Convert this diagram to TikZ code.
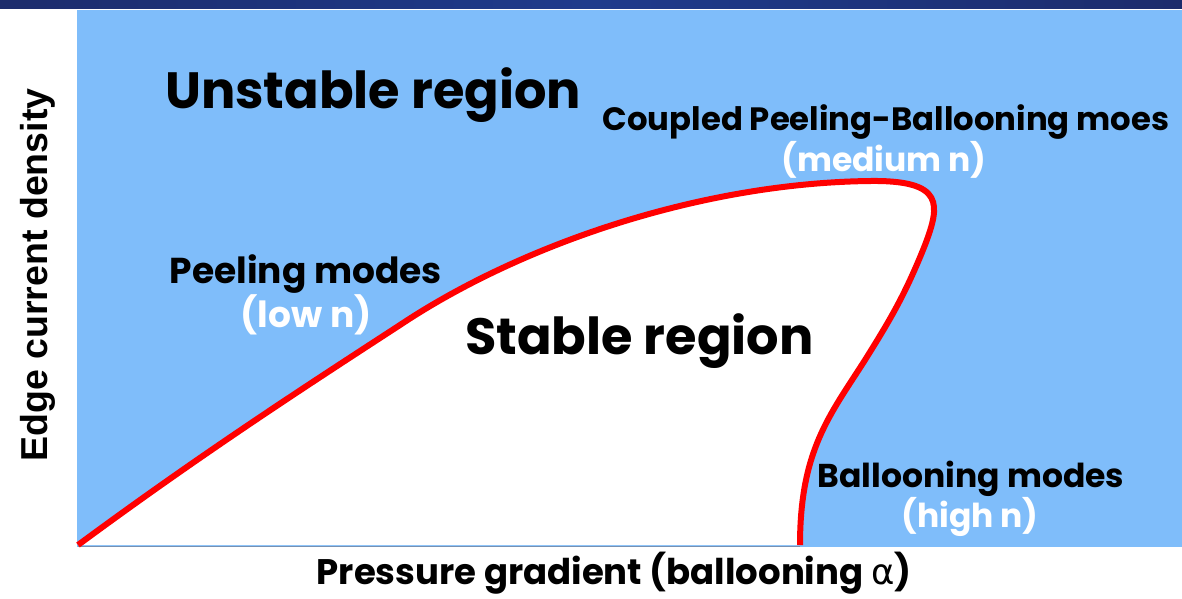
\documentclass[tikz,border=0pt]{standalone}
\usepackage{fontspec}
\setmainfont{Poppins}
\newfontfamily\axisfont{Liberation Sans}
\newfontfamily\greekfont{DejaVu Sans}
\definecolor{skyblue}{RGB}{127,189,250}
\definecolor{navydark}{RGB}{28,44,108}
\definecolor{navylight}{RGB}{31,59,140}
\definecolor{edgegray}{RGB}{120,145,178}
\tikzset{
  regionlbl/.style={font=\bfseries\fontsize{51}{60}\selectfont, inner sep=0pt, anchor=base west},
  modelbl/.style={font=\bfseries\fontsize{33}{40}\selectfont, inner sep=0pt, anchor=base},
  modenum/.style={modelbl, text=white},
}

\begin{document}
\begin{tikzpicture}[x=1pt, y=-1pt]
\useasboundingbox (0,0) rectangle (1182,598);
\fill[left color=navydark, right color=navydark, middle color=navylight] (0,0) rectangle (1182,8);
\fill[skyblue] (77,10) rectangle (1182,547);
\path[fill=white] (78,545) .. controls (200,455) and (300,390) .. (400,325)
  .. controls (520,245) and (700,183) .. (870,181)
  .. controls (945,180) and (940,205) .. (925,245)
  .. controls (905,295) and (890,320) .. (865,360)
  .. controls (830,415) and (800,450) .. (800,545) -- cycle;
\draw[edgegray, line width=1pt] (78,546) -- (800,546);
\draw[red, line width=6pt] (78,545) .. controls (200,455) and (300,390) .. (400,325)
  .. controls (520,245) and (700,183) .. (870,181)
  .. controls (945,180) and (940,205) .. (925,245)
  .. controls (905,295) and (890,320) .. (865,360)
  .. controls (830,415) and (800,450) .. (800,545);

\node[regionlbl] (unstable) at (165,108) {Unstable region};
\node[regionlbl] (stable) at (465,354) {Stable region};

\node[modelbl, font=\bfseries\fontsize{32.3}{39}\selectfont] (coupled) at (886,130) {Coupled Peeling-Ballooning moes};
\node[modenum] (coupledn) at (884,171) {(medium n)};
\node[modelbl, font=\bfseries\fontsize{36}{43}\selectfont] (peeling) at (306,283) {Peeling modes};
\node[modenum, font=\bfseries\fontsize{36}{43}\selectfont] (peelingn) at (306,327) {(low n)};
\node[modelbl] (balloon) at (971,487) {Ballooning modes};
\node[modenum] (balloonn) at (970,527) {(high n)};

\node[modelbl, font=\bfseries\fontsize{35.5}{42}\selectfont] (xaxis) at (614,584) {Pressure gradient (ballooning {\greekfont\mdseries α})};
\node[inner sep=0pt, anchor=base, rotate=90, font=\axisfont\bfseries\fontsize{37.5}{44}\selectfont] (yaxis) at (47,275) {Edge current density};
\end{tikzpicture}
\end{document}
